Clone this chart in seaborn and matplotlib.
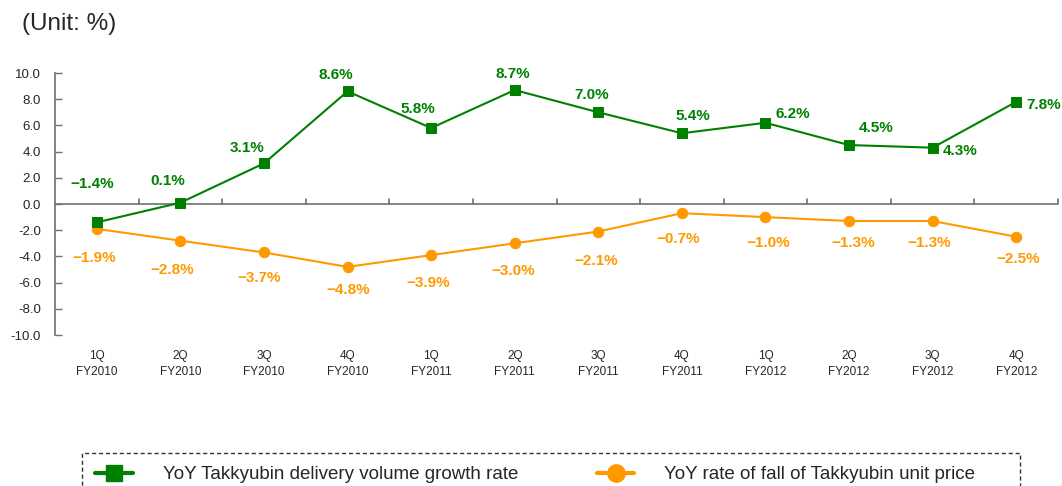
import numpy as np
import pandas as pd
import matplotlib
matplotlib.use("Agg")
import matplotlib.pyplot as plt
import seaborn as sns
from matplotlib.lines import Line2D
from matplotlib.patches import Rectangle

sns.set_style("white")
plt.rcParams['font.family'] = ['Liberation Sans', 'DejaVu Sans']
plt.rcParams['axes.unicode_minus'] = False

# chart data
quarters = ['1Q', '2Q', '3Q', '4Q'] * 3
years = ['FY2010'] * 4 + ['FY2011'] * 4 + ['FY2012'] * 4
volume_growth = [-1.4, 0.1, 3.1, 8.6, 5.8, 8.7, 7.0, 5.4, 6.2, 4.5, 4.3, 7.8]
price_fall = [-1.9, -2.8, -3.7, -4.8, -3.9, -3.0, -2.1, -0.7, -1.0, -1.3, -1.3, -2.5]
y_ticks = [10.0, 8.0, 6.0, 4.0, 2.0, 0.0, -2.0, -4.0, -6.0, -8.0, -10.0]

# label offsets in pixels (dx, dy) relative to the point
green_off = [(-5, 38), (-13, 22), (-17, 15), (-12, 16), (-13, 19), (-2, 16),
             (-7, 17), (11, 17), (27, 9), (27, 17), (28, -3), (27, -3)]
orange_off = [(-3, -29), (-8, -29), (-5, -26), (1, -23), (-3, -28), (-2, -28),
              (-2, -29), (-4, -26), (3, -26), (4, -22), (-3, -22), (2, -22)]

GREEN = '#008000'
ORANGE = '#FF9900'

df = pd.DataFrame({
    'pos': np.arange(len(quarters)),
    'volume': volume_growth,
    'price': price_fall,
})

fig = plt.figure(figsize=(10.62, 4.86), dpi=100)
ax = fig.add_axes([55 / 1062, 1 - 335 / 486, 1003 / 1062, 262 / 486])

sns.lineplot(data=df, x='pos', y='volume', ax=ax, color=GREEN, marker='s',
             markersize=7.5, markeredgecolor=GREEN, linewidth=1.5, zorder=4)
sns.lineplot(data=df, x='pos', y='price', ax=ax, color=ORANGE, marker='o',
             markersize=7.5, markeredgecolor=ORANGE, linewidth=1.5, zorder=3)

for i, v in enumerate(volume_growth):
    ax.annotate(f"{v:.1f}%".replace('-', '\u2212'), (i, v),
                xytext=green_off[i], textcoords='offset pixels',
                ha='center', va='center', color=GREEN, fontsize=11,
                fontweight='bold')
for i, v in enumerate(price_fall):
    ax.annotate(f"{v:.1f}%".replace('-', '\u2212'), (i, v),
                xytext=orange_off[i], textcoords='offset pixels',
                ha='center', va='center', color=ORANGE, fontsize=11,
                fontweight='bold')

ax.set_xlim(-0.5, len(quarters) - 0.5)
ax.set_ylim(-10, 10)
ax.set_yticks(y_ticks)
ax.set_yticklabels([f"{t:.1f}" for t in y_ticks], fontsize=9.5)
ax.set_xticks(df['pos'])
ax.set_xticklabels([f"{q}\n{y}" for q, y in zip(quarters, years)], fontsize=8.5,
                   linespacing=1.45)
ax.tick_params(axis='x', length=0, pad=11)
ax.tick_params(axis='y', direction='in', length=5, width=1, color='#707070',
               left=True, pad=10)
ax.set_xlabel('')
ax.set_ylabel('')

for s in ['top', 'right', 'bottom']:
    ax.spines[s].set_visible(False)
ax.spines['left'].set_color('#707070')
ax.spines['left'].set_linewidth(1.2)

# zero line with small category separators
ax.axhline(0, color='#707070', linewidth=1.2, zorder=1)
for b in np.arange(0.5, len(quarters) + 0.5, 1.0):
    ax.plot([b, b], [0, 0.35], color='#707070', linewidth=1.2, zorder=1,
            clip_on=False)

fig.text(22 / 1062, 1 - 24 / 486, '(Unit: %)', fontsize=17.5, va='center',
         ha='left')

handles = [
    Line2D([], [], color=GREEN, marker='s', markersize=12, linewidth=3),
    Line2D([], [], color=ORANGE, marker='o', markersize=12.5, linewidth=3),
]
labels = ['YoY Takkyubin delivery volume growth rate',
          'YoY rate of fall of Takkyubin unit price']
leg = fig.legend(handles, labels, loc='upper left',
                 bbox_to_anchor=(82 / 1062, 1 - 453 / 486),
                 ncol=2, fontsize=13.5, frameon=False,
                 borderpad=0.7, handlelength=2.0,
                 handletextpad=1.6, columnspacing=4.2, borderaxespad=0)

# dashed legend box, running off the bottom edge like the original
box = Rectangle((82 / 1062, -0.05), 938 / 1062, (486 - 453) / 486 + 0.05,
                transform=fig.transFigure, fill=False, edgecolor='#333333',
                linewidth=1, linestyle=(0, (3, 2)))
fig.patches.append(box)

fig.savefig('out.png', dpi=100)
